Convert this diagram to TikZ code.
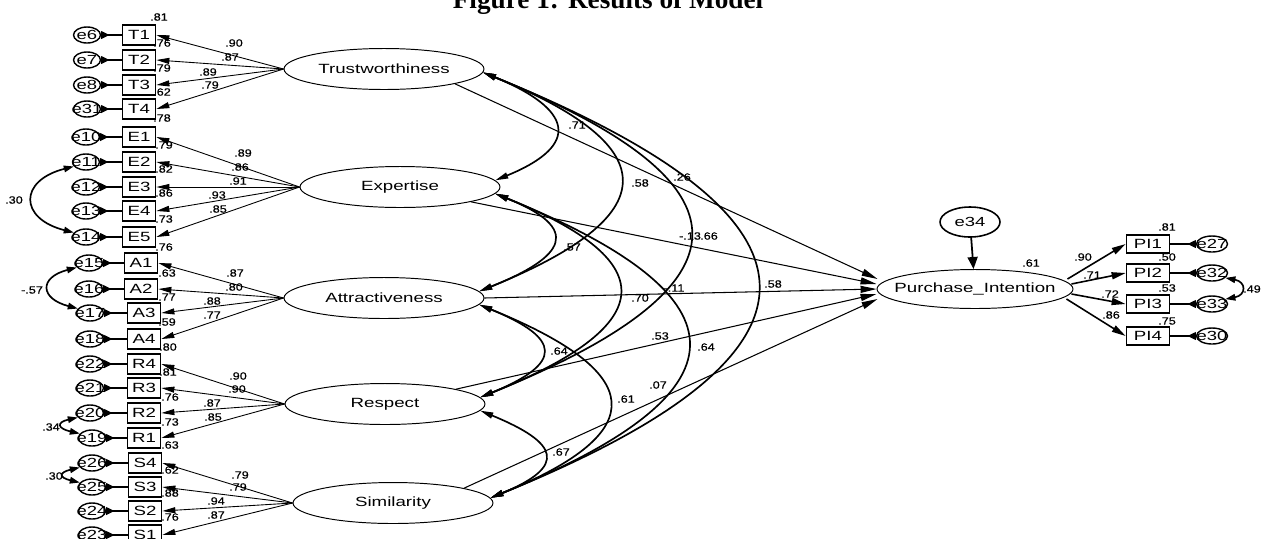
\documentclass[tikz,border=0pt]{standalone}
\usepackage{fontspec}
\setmainfont{Liberation Sans}
\newfontfamily\amos[FakeStretch=1.4]{Liberation Sans}
\newfontfamily\amosnum[FakeStretch=1.2,FakeBold=0.5]{Liberation Sans}
\newfontfamily\titlefont{Liberation Serif}
\usetikzlibrary{arrows.meta,shapes.geometric,calc}
\begin{document}
\begin{tikzpicture}[x=0.02cm,y=-0.02cm,
 lat/.style={ellipse,draw,line width=0.55pt,minimum width=4cm,minimum height=0.82cm,inner sep=0pt},
 txt/.style={inner sep=0pt,font=\amos\fontsize{7.6}{9}\selectfont},
 etxt/.style={inner sep=0pt,font=\amos\fontsize{7.5}{8}\selectfont},
 ind/.style={rectangle,draw,line width=1pt,minimum width=0.66cm,minimum height=0.4cm,inner sep=0pt,font=\amos\fontsize{7.6}{9}\selectfont},
 pind/.style={ind,minimum width=0.86cm,minimum height=0.36cm},
 err/.style={ellipse,draw,line width=0.8pt,minimum width=0.54cm,minimum height=0.32cm,inner sep=0pt},
 perr/.style={err,minimum width=0.62cm},
 num/.style={inner sep=0pt,font=\amosnum\fontsize{6}{7}\selectfont},
 load/.style={-{Triangle[length=0.26cm,width=0.12cm]},line width=0.5pt},
 piload/.style={-{Triangle[length=0.28cm,width=0.14cm]},line width=0.9pt},
 errarr/.style={{Triangle[reversed,length=0.17cm,width=0.15cm]}-,line width=1pt},
 spath/.style={-{Triangle[length=0.32cm,width=0.14cm]},line width=0.6pt},
 cov/.style={{Triangle[length=0.26cm,width=0.12cm]}-{Triangle[length=0.26cm,width=0.12cm]},line width=0.95pt},
 lcov/.style={{Triangle[length=0.2cm,width=0.13cm]}-{Triangle[length=0.2cm,width=0.13cm]},line width=0.95pt}
]
\useasboundingbox (0,0) rectangle (1266,538);
\clip (0,0) rectangle (1266,538);

% title
\node[anchor=base,inner sep=0pt,font=\titlefont\bfseries\fontsize{15.5}{18}\selectfont] (title) at (608,8) {Figure 1: Results of Model};

% latent variables
\node[lat] (trust) at (384,69) {};
\node[txt] at (trust) {Trustworthiness};
\node[lat] (exp) at (400,187) {};
\node[txt] at (exp) {Expertise};
\node[lat] (attr) at (384,298) {};
\node[txt] at (attr) {Attractiveness};
\node[lat] (resp) at (385,404) {};
\node[txt] at (resp) {Respect};
\node[lat] (sim) at (393,503) {};
\node[txt] at (sim) {Similarity};
\node[lat,minimum width=3.92cm,minimum height=0.78cm] (pi) at (975,289) {};
\node[txt] at (pi) {Purchase\_Intention};

% indicators of exogenous latents
\foreach \Bx/\By/\Bn/\En/\Ex/\Rt/\Rx/\Ry/\Lv/\Lx/\Ly/\Lt in {
139/35/T1/e6/87/.81/159/17/.90/234/43/trust,
139/60/T2/e7/87/.76/162/43/.87/230/57/trust,
139/85/T3/e8/87/.79/162/68/.89/208/72/trust,
139/109/T4/e31/87/.62/162/92/.79/210/85/trust,
139/137/E1/e10/86/.78/162/118/.89/243/153/exp,
139/162/E2/e11/86/.79/164/145/.86/240/167/exp,
139/187/E3/e12/86/.82/164/169/.91/238/181/exp,
139/211/E4/e13/86/.86/164/193/.93/217/195/exp,
139/237/E5/e14/86/.73/164/219/.85/218/209/exp,
141/263/A1/e15/89/.76/164/247/.87/235/273/attr,
141/289/A2/e16/89/.63/167/273/.80/234/287/attr,
144/313/A3/e17/90/.77/167/297/.88/212/301/attr,
144/339/A4/e18/90/.59/167/322/.77/212/315/attr,
144/364/R4/e22/90/.80/168/347/.90/238/376/resp,
144/388/R3/e21/90/.81/168/372/.90/237/389/resp,
144/413/R2/e20/90/.76/170/397/.87/212/403/resp,
144/438/R1/e19/92/.73/170/422/.85/213/417/resp,
145/463/S4/e26/92/.63/170/445/.79/240/475/sim,
145/487/S3/e25/92/.62/170/470/.79/238/487/sim,
145/511/S2/e24/92/.88/170/493/.94/216/501/sim,
145/535/S1/e23/92/.76/170/517/.87/216/515/sim}
{
 \node[ind] (\Bn) at (\Bx,\By) {\Bn};
 \node[err] (\En) at (\Ex,\By) {};
 \node[etxt] at (\En) {\En};
 \draw[errarr] (\En) -- (\Bn);
 \draw[load] (\Lt.west) -- (\Bn.east);
 \node[num] at (\Rx,\Ry) {\Rt};
 \node[num] at (\Lx,\Ly) {\Lv};
}

% error covariances (left)
\draw[lcov] (e11.200) .. controls +(-55,14) and +(-55,-14) .. (e14.160);
\node[num] at (14,200) {.30};
\draw[lcov] (e15.200) .. controls +(-38,10) and +(-38,-10) .. (e17.160);
\node[num] at (32,290) {-.57};
\draw[lcov] (e20.200) .. controls +(-22,5) and +(-22,-5) .. (e19.160);
\node[num] at (51,427) {.34};
\draw[lcov] (e26.200) .. controls +(-21,5) and +(-21,-5) .. (e25.160);
\node[num] at (54,476) {.30};

% covariances among exogenous latents
\draw[cov] (trust.-2) .. controls +(88,36) and +(88,-36) .. (exp.4);
\draw[cov] (exp.-4) .. controls +(87,35) and +(87,-35) .. (attr.4);
\draw[cov] (attr.-4) .. controls +(83,34) and +(83,-34) .. (resp.4);
\draw[cov] (resp.-4) .. controls +(78,32) and +(78,-32) .. (sim.3);
\draw[cov] (trust.-2) .. controls +(185,75) and +(185,-75) .. (attr.4);
\draw[cov] (exp.-4) .. controls +(174,70) and +(174,-70) .. (resp.4);
\draw[cov] (attr.-4) .. controls +(165,67) and +(165,-67) .. (sim.3);
\draw[cov] (trust.-2) .. controls +(277,112) and +(277,-112) .. (resp.4);
\draw[cov] (exp.-4) .. controls +(259,105) and +(259,-105) .. (sim.3);
\draw[cov] (trust.-2) .. controls +(360,146) and +(360,-146) .. (sim.3);
\node[num] at (577,125) {.71};
\node[num] at (572,247) {.57};
\node[num] at (559,351) {.64};
\node[num] at (561,452) {.67};
\node[num] at (640,183) {.58};
\node[num] at (640,298) {.70};
\node[num] at (626,399) {.61};
\node[num] at (709,236) {.66};
\node[num] at (706,347) {.64};
\node[num] at (773,284) {.58};

% structural paths
\draw[spath] (trust.south east) -- ([shift={(1,-10)}]pi.west);
\draw[spath] (exp.south east) -- ([shift={(0,-5)}]pi.west);
\draw[spath] (attr.east) -- (pi.west);
\draw[spath] (resp.north east) -- ([shift={(0,5)}]pi.west);
\draw[spath] (sim.north east) -- ([shift={(1,10)}]pi.west);
\node[num] at (682,177) {.26};
\node[num] at (690,236) {-.13};
\node[num] at (674,288) {-.11};
\node[num] at (660,336) {.53};
\node[num] at (658,385) {.07};

% disturbance
\node[err,minimum width=1.2cm,minimum height=0.6cm,line width=0.9pt] (e34) at (970,222) {};
\node[etxt] at (e34) {e34};
\draw[-{Triangle[length=0.24cm,width=0.2cm]},line width=1pt] (e34) -- (pi);
\node[num] at (1031,263) {.61};

% indicators of Purchase_Intention
\foreach \By/\Bn/\En/\Rt/\Ry/\Sx/\Sy in {
244/PI1/e27/.81/227/-6/-10,
273/PI2/e32/.50/257/-2/-5,
304/PI3/e33/.53/288/-2/5,
336/PI4/e30/.75/321/-7/10}
{
 \node[pind] (\Bn) at (1148,\By) {\Bn};
 \node[perr] (\En) at (1212,\By) {};
 \node[etxt] at (\En) {\En};
 \draw[errarr] (\En) -- (\Bn);
 \draw[piload] ([shift={(\Sx,\Sy)}]pi.east) -- (\Bn.west);
 \node[num] at (1167,\Ry) {\Rt};
}
\node[num] at (1083,257) {.90};
\node[num] at (1092,275) {.71};
\node[num] at (1110,294) {.72};
\node[num] at (1111,315) {.86};
\draw[lcov] (e32.-20) .. controls +(21,4) and +(21,-4) .. (e33.20);
\node[num] at (1252,289) {.49};
\end{tikzpicture}
\end{document}
